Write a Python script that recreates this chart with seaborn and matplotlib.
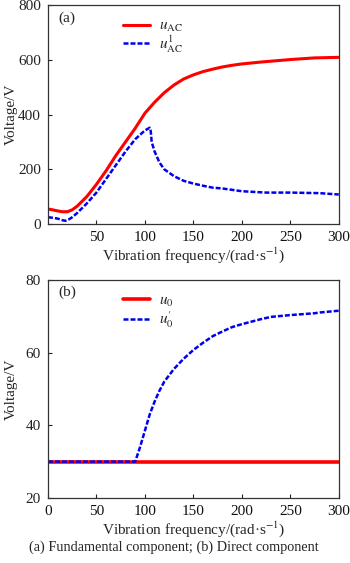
import numpy as np
import pandas as pd
import matplotlib
matplotlib.use("Agg")
import matplotlib.pyplot as plt
import seaborn as sns

# --- data ---
freq_a = [0, 5, 10, 15, 20, 25, 30, 40, 50, 60, 70, 80, 90, 100, 110, 120, 130, 140, 150,
          160, 170, 180, 190, 200, 220, 250, 275, 300]
u_ac = [55, 52, 48, 45, 45, 52, 65, 100, 145, 195, 250, 300, 350, 405, 445, 480, 508, 530, 545,
        557, 566, 574, 580, 585, 592, 601, 607, 609]

freq_a1 = [0, 5, 10, 15, 18, 22, 25, 30, 40, 50, 60, 70, 80, 90, 100, 105, 106, 107, 110, 115,
           120, 130, 140, 150, 160, 170, 180, 190, 200, 225, 250, 280, 300]
u_ac1 = [25, 23, 20, 14, 12, 18, 25, 40, 75, 115, 165, 215, 265, 310, 342, 352, 340, 300, 265, 225,
         200, 175, 158, 148, 140, 133, 130, 125, 120, 115, 115, 113, 108]

freq_b = [0, 50, 90, 150, 200, 250, 300]
u0 = [30, 30, 30, 30, 30, 30, 30]

freq_b1 = [0, 50, 90, 95, 100, 105, 110, 115, 120, 130, 140, 150, 160, 170, 180, 190, 200, 210,
           220, 230, 250, 275, 280, 300]
u0p = [30, 30, 30, 34, 38.5, 43, 46.5, 49.5, 52, 55.5, 58.3, 60.7, 62.7, 64.5, 65.8, 67, 67.8, 68.5,
       69.2, 69.8, 70.3, 70.8, 71, 71.5]

sns.set_theme(style="ticks")
plt.rcParams['font.family'] = ['Liberation Serif', 'DejaVu Serif']
plt.rcParams['mathtext.fontset'] = 'stix'

fig = plt.figure(figsize=(3.5, 5.63), dpi=100)
ax1 = fig.add_axes([0.137, 0.602, 0.831, 0.389])
ax2 = fig.add_axes([0.137, 0.1155, 0.831, 0.3875])

RED = '#ff0000'
BLUE = '#0000ee'
DASH = [2.0, 0.8]

df_a = pd.DataFrame({'x': freq_a, 'y': u_ac})
df_a1 = pd.DataFrame({'x': freq_a1, 'y': u_ac1})
sns.lineplot(data=df_a, x='x', y='y', ax=ax1, color=RED, lw=2.2, label=r'$u_{\mathrm{AC}}$')
sns.lineplot(data=df_a1, x='x', y='y', ax=ax1, color=BLUE, lw=1.8,
             label=r'$u_{\mathrm{AC}}^{1}$')
ax1.lines[1].set_dashes(DASH)

df_b = pd.DataFrame({'x': freq_b, 'y': u0})
df_b1 = pd.DataFrame({'x': freq_b1, 'y': u0p})
sns.lineplot(data=df_b, x='x', y='y', ax=ax2, color=RED, lw=2.6, label=r'$u_0$')
sns.lineplot(data=df_b1, x='x', y='y', ax=ax2, color=BLUE, lw=1.8, label=r"$u_0^{\prime}$")
ax2.lines[1].set_dashes(DASH)

fs = 11
for ax, ly, sp in ((ax1, 0.935, -0.05), (ax2, 0.935, 0.05)):
    ax.set_xlim(0, 300)
    ax.tick_params(direction='in', length=3, width=0.8, labelsize=fs, pad=5, colors='#222222')
    ax.tick_params(axis='x', labelcolor='#111111')
    for s in ax.spines.values():
        s.set_linewidth(0.9)
        s.set_color('#333333')
    ax.set_xlabel('Vibration frequency/(rad·s$^{-1}$)', fontsize=fs, labelpad=1)
    ax.set_ylabel('Voltage/V', fontsize=fs)
    ax.yaxis.set_label_coords(-0.105, 0.5)
    ax.legend(loc='upper left', bbox_to_anchor=(0.258, ly), frameon=False,
              fontsize=fs, handlelength=1.8, handletextpad=0.55, labelspacing=sp,
              borderaxespad=0, borderpad=0)

ax1.set_ylim(0, 800)
ax1.set_yticks([0, 200, 400, 600, 800])
ax1.set_xticks([50, 100, 150, 200, 250, 300])
ax2.set_ylim(20, 80)
ax2.set_yticks([20, 40, 60, 80])
ax2.set_xticks([0, 50, 100, 150, 200, 250, 300])

ax1.text(0.035, 0.972, '(a)', transform=ax1.transAxes, fontsize=fs, va='top', ha='left')
ax2.text(0.035, 0.972, '(b)', transform=ax2.transAxes, fontsize=fs, va='top', ha='left')

fig.text(0.498, 0.028, '(a) Fundamental component; (b) Direct component', fontsize=10.3,
         ha='center', va='center')

fig.savefig('out.png', dpi=100)
